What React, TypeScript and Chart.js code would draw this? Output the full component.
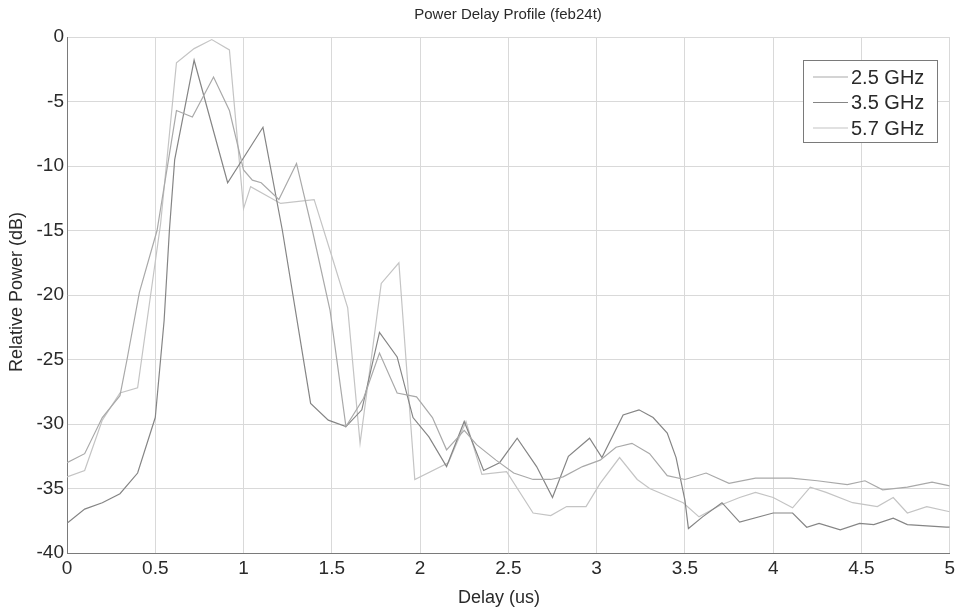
import React, { useEffect, useRef } from "react";
import { Chart, registerables } from "chart.js";

Chart.register(...registerables);

const seriesLabels = ["2.5 GHz", "3.5 GHz", "5.7 GHz"];
const seriesColors = ["#a9a9a9", "#858585", "#c4c4c4"];

const delay25 = [0, 0.1, 0.2, 0.3, 0.34, 0.41, 0.51, 0.62, 0.71, 0.83, 0.92, 1.0, 1.05, 1.1, 1.2, 1.3, 1.39, 1.49, 1.58, 1.68, 1.77, 1.87, 1.98, 2.07, 2.15, 2.25, 2.32, 2.43, 2.53, 2.64, 2.74, 2.81, 2.92, 3.02, 3.11, 3.2, 3.3, 3.4, 3.5, 3.62, 3.75, 3.9, 4.1, 4.25, 4.42, 4.52, 4.62, 4.76, 4.9, 5.0];
const power25 = [-33.0, -32.3, -29.5, -27.8, -25.0, -19.8, -15.0, -5.7, -6.2, -3.1, -5.7, -10.3, -11.1, -11.3, -12.6, -9.8, -15.0, -21.2, -30.2, -28.0, -24.5, -27.6, -27.9, -29.5, -32.0, -30.5, -31.6, -32.8, -33.8, -34.3, -34.3, -34.1, -33.3, -32.8, -31.8, -31.5, -32.3, -34.0, -34.3, -33.8, -34.6, -34.2, -34.2, -34.4, -34.7, -34.4, -35.1, -34.9, -34.5, -34.8];

const delay35 = [0, 0.1, 0.2, 0.3, 0.4, 0.5, 0.55, 0.58, 0.61, 0.72, 0.91, 1.11, 1.22, 1.38, 1.48, 1.58, 1.67, 1.77, 1.87, 1.96, 2.05, 2.15, 2.25, 2.36, 2.45, 2.55, 2.66, 2.75, 2.84, 2.96, 3.03, 3.15, 3.24, 3.32, 3.4, 3.45, 3.5, 3.52, 3.6, 3.71, 3.81, 4.0, 4.11, 4.19, 4.26, 4.38, 4.49, 4.57, 4.68, 4.76, 4.98, 5.0];
const power35 = [-37.7, -36.6, -36.1, -35.4, -33.8, -29.5, -22.0, -15.0, -9.5, -1.8, -11.3, -7.0, -15.0, -28.4, -29.7, -30.2, -28.9, -22.9, -24.8, -29.5, -31.0, -33.3, -29.8, -33.6, -33.0, -31.1, -33.3, -35.7, -32.5, -31.1, -32.6, -29.3, -28.9, -29.5, -30.7, -32.6, -35.9, -38.1, -37.2, -36.1, -37.6, -36.9, -36.9, -38.0, -37.7, -38.2, -37.7, -37.8, -37.3, -37.8, -38.0, -38.0];

const delay57 = [0, 0.1, 0.2, 0.3, 0.4, 0.53, 0.62, 0.72, 0.82, 0.92, 1.0, 1.04, 1.21, 1.4, 1.5, 1.59, 1.66, 1.78, 1.88, 1.97, 2.16, 2.26, 2.35, 2.49, 2.64, 2.74, 2.83, 2.94, 3.02, 3.13, 3.23, 3.3, 3.49, 3.58, 3.7, 3.81, 3.9, 4.0, 4.11, 4.21, 4.3, 4.45, 4.59, 4.68, 4.76, 4.87, 5.0];
const power57 = [-34.1, -33.6, -29.7, -27.6, -27.2, -14.5, -2.0, -0.9, -0.2, -1.0, -13.3, -11.6, -12.9, -12.6, -17.0, -21.0, -31.5, -19.1, -17.5, -34.3, -33.0, -29.8, -33.9, -33.7, -36.9, -37.1, -36.4, -36.4, -34.6, -32.6, -34.3, -35.0, -36.1, -37.2, -36.3, -35.7, -35.3, -35.7, -36.5, -34.9, -35.3, -36.1, -36.4, -35.7, -36.9, -36.4, -36.8];

const xTickValues = [0, 0.5, 1, 1.5, 2, 2.5, 3, 3.5, 4, 4.5, 5];
const yTickValues = [-40, -35, -30, -25, -20, -15, -10, -5, 0];

const titleText = "Power Delay Profile (feb24t)";
const xLabel = "Delay (us)";
const yLabel = "Relative Power (dB)";

const FONT = '"Liberation Sans", Arial, sans-serif';
const TEXT = "#2a2a2a";

function pts(xs: number[], ys: number[]) {
  return xs.map((x, i) => ({ x, y: ys[i] }));
}

const overlay = {
  id: "overlay",
  afterDraw(chart: any) {
    const ctx = chart.ctx;
    const area = chart.chartArea;
    ctx.save();
    ctx.fillStyle = TEXT;
    ctx.textAlign = "center";
    ctx.textBaseline = "middle";
    ctx.font = `15px ${FONT}`;
    ctx.fillText(titleText, 508, 15);
    ctx.font = `18px ${FONT}`;
    ctx.fillText(xLabel, 499, 598);
    ctx.save();
    ctx.translate(17, 292);
    ctx.rotate(-Math.PI / 2);
    ctx.fillText(yLabel, 0, 0);
    ctx.restore();

    // legend
    const lx = 803, ly = 60, lw = 134, lh = 82;
    ctx.fillStyle = "#ffffff";
    ctx.fillRect(lx, ly, lw, lh);
    ctx.strokeStyle = "#7a7a7a";
    ctx.lineWidth = 1;
    ctx.strokeRect(lx + 0.5, ly + 0.5, lw, lh);
    chart.data.datasets.forEach((ds: any, i: number) => {
      const y = ly + 17 + i * 25.5;
      ctx.strokeStyle = ds.borderColor;
      ctx.lineWidth = 1.2;
      ctx.beginPath();
      ctx.moveTo(lx + 10, y);
      ctx.lineTo(lx + 45, y);
      ctx.stroke();
      ctx.fillStyle = TEXT;
      ctx.textAlign = "left";
      ctx.font = `20px ${FONT}`;
      ctx.fillText(ds.label, lx + 48, y + 1);
    });
    ctx.restore();
  },
};

export default function App() {
  const ref = useRef<HTMLCanvasElement>(null);
  useEffect(() => {
    document.body.style.margin = "0";
    const canvas = ref.current!;
    const chart = new Chart(canvas, {
      type: "line",
      data: {
        datasets: [
          { label: seriesLabels[0], data: pts(delay25, power25), borderColor: seriesColors[0] },
          { label: seriesLabels[1], data: pts(delay35, power35), borderColor: seriesColors[1] },
          { label: seriesLabels[2], data: pts(delay57, power57), borderColor: seriesColors[2] },
        ].map((d) => ({ ...d, borderWidth: 1.2, pointRadius: 0, tension: 0, fill: false })),
      },
      options: {
        animation: false,
        responsive: false,
        maintainAspectRatio: false,
        layout: { padding: { top: 37, right: 9, left: 0, bottom: 0 } },
        plugins: { legend: { display: false }, title: { display: false }, tooltip: { enabled: false } },
        scales: {
          x: {
            type: "linear",
            min: 0,
            max: 5,
            afterFit: (s: any) => { s.height = 61; },
            afterBuildTicks: (s: any) => { s.ticks = xTickValues.map((v) => ({ value: v })); },
            ticks: {
              color: TEXT,
              font: { family: FONT, size: 19 },
              padding: 4,
              maxRotation: 0,
              autoSkip: false,
              callback: (v: any) => String(v),
            },
            grid: { color: "#d9d9d9", drawTicks: false, lineWidth: 1 },
            border: { color: "#7a7a7a" },
          },
          y: {
            type: "linear",
            min: -40,
            max: 0,
            afterFit: (s: any) => { s.width = 67; },
            afterBuildTicks: (s: any) => { s.ticks = yTickValues.map((v) => ({ value: v })); },
            ticks: {
              color: TEXT,
              font: { family: FONT, size: 19 },
              padding: 3,
              autoSkip: false,
              callback: (v: any) => String(v),
            },
            grid: { color: "#d9d9d9", drawTicks: false, lineWidth: 1 },
            border: { color: "#7a7a7a" },
          },
        },
      },
      plugins: [overlay],
    } as any);
    return () => chart.destroy();
  }, []);
  return <canvas ref={ref} width={959} height={614} style={{ display: "block", width: 959, height: 614 }} />;
}
